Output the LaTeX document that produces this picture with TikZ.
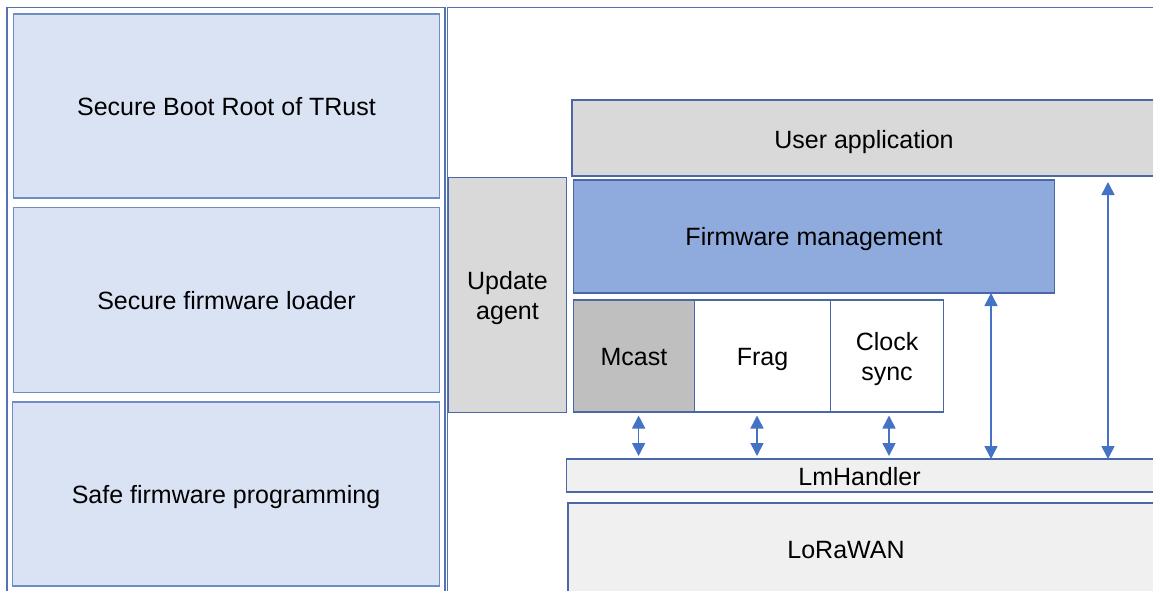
\documentclass[tikz,border=0pt]{standalone}
\usepackage{fontspec}
\setmainfont{Liberation Sans}
\usetikzlibrary{arrows.meta}
\definecolor{lbfill}{HTML}{DAE3F3}
\definecolor{lbdraw}{HTML}{6F8DC4}
\definecolor{frdraw}{HTML}{5573B0}
\definecolor{bxdraw}{HTML}{4A68A8}
\definecolor{gfill}{HTML}{D9D9D9}
\definecolor{mfill}{HTML}{BFBFBF}
\definecolor{fwfill}{HTML}{8FAADC}
\definecolor{lfill}{HTML}{F0F0F0}
\definecolor{arr}{HTML}{4472C4}
\tikzset{
  txt/.style={font=\fontsize{25}{30}\selectfont, align=center, text=black, text height=18.2pt, text depth=0pt},
  twoline/.style={text height=48.2pt, text depth=0pt},
  box/.style={draw=bxdraw, line width=1.3pt, anchor=north west, inner sep=0pt, outer sep=0pt, txt},
  lbox/.style={box, draw=lbdraw, fill=lbfill},
  dar/.style={draw=arr, line width=1.6pt, {Triangle[length=13pt,width=13pt]}-{Triangle[length=13pt,width=13pt]}},
}
\begin{document}
\begin{tikzpicture}[x=1pt,y=-1pt]
\useasboundingbox (0,0) rectangle (1153,590);
\clip (0,0) rectangle (1153,590);
\fill[white] (0,0) rectangle (1153,590);
% frames
\draw[frdraw, line width=1.3pt] (7,7.5) rectangle (445,600);
\draw[frdraw, line width=1.3pt] (447.5,7.5) rectangle (1170,600);
% left column
\node[lbox, minimum width=426pt, minimum height=184pt] (sb) at (13.5,14) {Secure Boot Root of TRust};
\node[lbox, minimum width=426pt, minimum height=185pt] (sfl) at (13.5,207.5) {Secure firmware loader};
\node[lbox, minimum width=427pt, minimum height=184pt] (sfp) at (12.5,402) {Safe firmware programming};
% right column
\node[box, fill=gfill, minimum width=590pt, minimum height=76pt, label={[txt, yshift=-1pt, xshift=-3pt]center:User application}] (ua) at (572,100) {};
\node[box, fill=gfill, minimum width=118pt, minimum height=235pt, twoline] (upd) at (448.5,177.5) {Update\\agent};
\node[box, fill=fwfill, minimum width=481pt, minimum height=113pt] (fw) at (573.5,180) {Firmware management};
\node[box, fill=mfill, minimum width=121pt, minimum height=112pt] (mc) at (573.5,300) {Mcast};
\node[box, fill=white, minimum width=136pt, minimum height=112pt] (fr) at (694.5,300) {Frag};
\node[box, fill=white, minimum width=113pt, minimum height=112pt, twoline] (cs) at (830.5,300) {Clock\\sync};
\node[box, fill=lfill, minimum width=594pt, minimum height=33pt, label={[txt, yshift=-1pt, xshift=-4pt]center:LmHandler}] (lm) at (566.5,459) {};
\node[box, fill=lfill, minimum width=592pt, minimum height=94pt, label={[txt, yshift=1pt, xshift=-18pt]center:LoRaWAN}] (lw) at (568,503) {};
% arrows
\coordinate (x1) at (638.6,0);
\coordinate (x2) at (757,0);
\coordinate (x3) at (889,0);
\coordinate (x4) at (991,0);
\coordinate (x5) at (1108,0);
\draw[dar, shorten <=3.5pt, shorten >=3pt] (mc.south -| x1) -- (lm.north -| x1);
\draw[dar, shorten <=3.5pt, shorten >=3pt] (fr.south -| x2) -- (lm.north -| x2);
\draw[dar, shorten <=3.5pt, shorten >=3pt] (cs.south -| x3) -- (lm.north -| x3);
\draw[dar] (fw.south -| x4) -- (lm.north -| x4);
\draw[dar, shorten <=2pt] (fw.north -| x5) -- (lm.north -| x5);
\end{tikzpicture}
\end{document}
